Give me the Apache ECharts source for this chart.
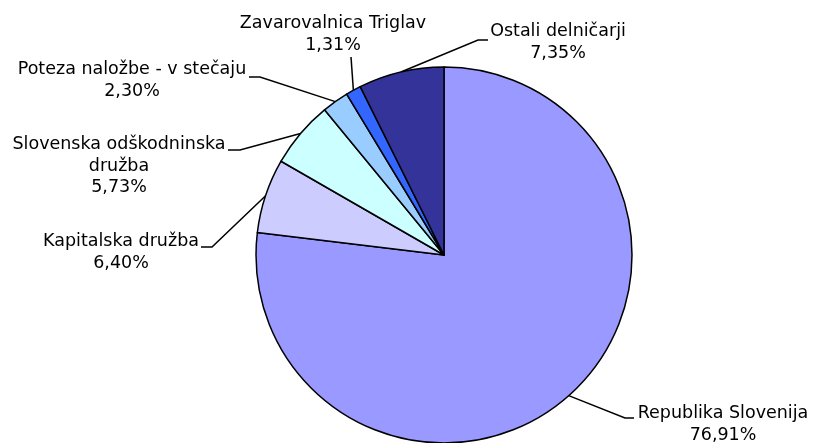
<!DOCTYPE html>
<html>
<head>
<meta charset="utf-8">
<script src="https://cdn.jsdelivr.net/npm/echarts@6/dist/echarts.min.js"></script>
<style>html,body{margin:0;padding:0;background:#fff;}#chart{width:814px;height:443px;}</style>
</head>
<body>
<div id="chart"></div>
<script>
// Data
var categories = ["Republika Slovenija", "Kapitalska družba", "Slovenska odškodninska družba", "Poteza naložbe - v stečaju", "Zavarovalnica Triglav", "Ostali delničarji"];
var labelTexts = ["Republika Slovenija", "Kapitalska družba", "Slovenska odškodninska\ndružba", "Poteza naložbe - v stečaju", "Zavarovalnica Triglav", "Ostali delničarji"];
var shares = [76.91, 6.40, 5.73, 2.30, 1.31, 7.35];
var colors = ["#9999FF", "#CCCCFF", "#CCFFFF", "#99CCFF", "#3366FF", "#333399"];

// Label placement (layout only): text centre x, text top y, elbow, line end
var labelPlace = [
  {cx: 723, top: 403, elbow: [625, 418], end: [634, 418]},
  {cx: 121, top: 231, elbow: [212, 247], end: [201, 247]},
  {cx: 119, top: 134, elbow: [240, 150], end: [228, 150]},
  {cx: 132, top: 59,  elbow: [260, 77],  end: [249, 77]},
  {cx: 333, top: 13,  elbow: [351, 57],  end: [351, 57]},
  {cx: 558, top: 21,  elbow: [478, 40],  end: [488, 40]}
];

var chart = echarts.init(document.getElementById('chart'), null, {renderer: 'canvas'});
var data = categories.map(function (c, i) {
  return {name: c, value: shares[i], itemStyle: {color: colors[i]}};
});
chart.setOption({
  animation: false,
  backgroundColor: '#ffffff',
  series: [{
    type: 'pie',
    center: [444, 255],
    radius: 188,
    startAngle: 90,
    clockwise: true,
    avoidLabelOverlap: false,
    data: data,
    itemStyle: {borderColor: '#000000', borderWidth: 1.5},
    label: {
      show: true,
      position: 'outside',
      color: '#000000',
      fontFamily: 'DejaVu Sans, Liberation Sans, Arial, sans-serif',
      fontSize: 17.5,
      lineHeight: 21.5,
      align: 'center',
      formatter: function (p) {
        return labelTexts[p.dataIndex] + '\n' + p.value.toFixed(2).replace('.', ',') + '%';
      }
    },
    labelLine: {show: true, smooth: false, lineStyle: {color: '#000000', width: 1.5}},
    labelLayout: function (params) {
      var lp = labelPlace[params.dataIndex];
      var p0 = params.labelLinePoints ? params.labelLinePoints[0] : lp.elbow;
      return {
        x: lp.cx,
        y: lp.top,
        align: 'center',
        verticalAlign: 'top',
        labelLinePoints: [p0, lp.elbow, lp.end]
      };
    }
  }]
});
</script>
</body>
</html>
